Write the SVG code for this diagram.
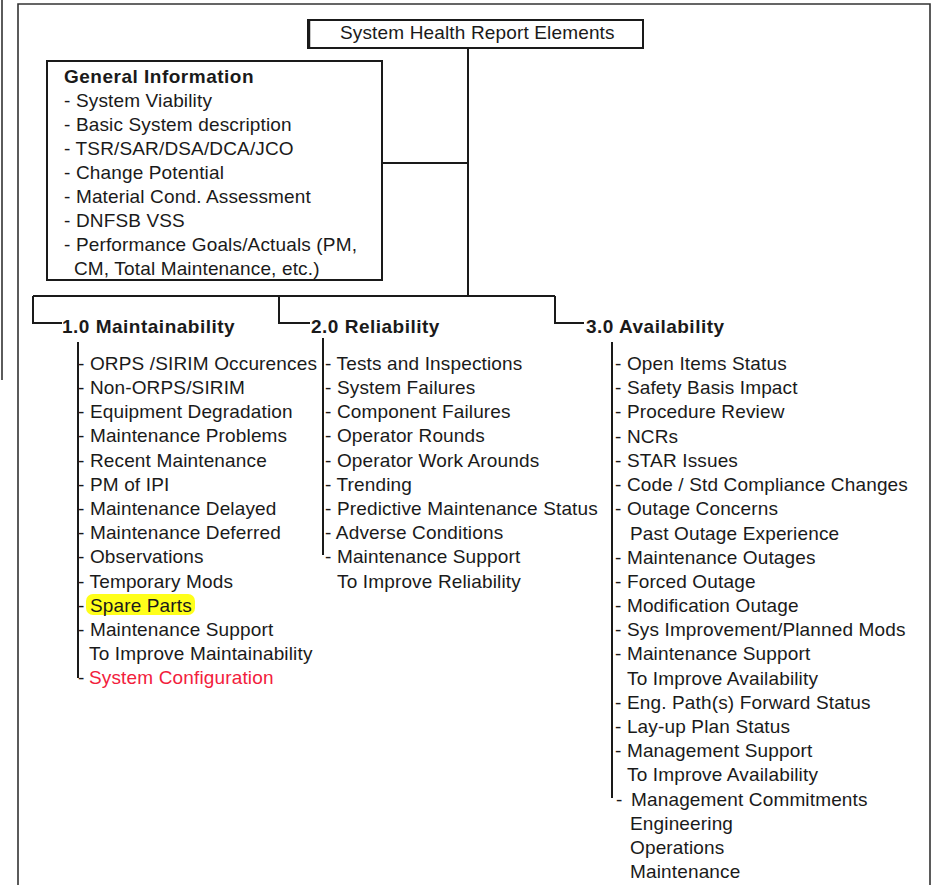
<svg xmlns="http://www.w3.org/2000/svg" width="932" height="885" viewBox="0 0 932 885">
<style>
text{font-family:"Liberation Sans",Arial,sans-serif;font-size:19px;fill:#1a1a1a;letter-spacing:0.15px}
.b{font-weight:bold;letter-spacing:0.5px}
.red{fill:#f2203c}
.box{fill:#fff;stroke:#1a1a1a;stroke-width:2}
.ln{fill:none;stroke:#1a1a1a;stroke-width:2}
.fr{fill:none;stroke:#333;stroke-width:1.6}
</style>
<rect width="932" height="885" fill="#fff"/>
<g id="frame">
<line class="fr" x1="2" y1="0" x2="2" y2="380"/>
<polyline class="fr" points="18,885 18,4 930,4 930,885"/>
</g>
<g id="connectors">
<line class="ln" x1="468" y1="48" x2="468" y2="296"/>
<line class="ln" x1="382" y1="163" x2="468" y2="163"/>
<line class="ln" x1="33" y1="296" x2="555" y2="296"/>
<polyline class="ln" points="33,296 33,323 62,323"/>
<polyline class="ln" points="279,296 279,323 310,323"/>
<polyline class="ln" points="555,296 555,323 584,323"/>
<line class="ln" x1="78" y1="342" x2="78" y2="678"/>
<line class="ln" x1="323" y1="338" x2="323" y2="555"/>
<line class="ln" x1="612" y1="342" x2="612" y2="798"/>
</g>
<g id="title">
<rect class="box" x="308" y="20" width="335" height="28"/>
<line x1="309" y1="20" x2="309" y2="48" stroke="#1a1a1a" stroke-width="2.5"/>
<text x="340" y="39">System Health Report Elements</text>
</g>
<g id="general-info">
<rect class="box" x="47" y="61" width="335" height="219"/>
<text class="b" x="64" y="83">General Information</text>
<text x="64" y="107">- System Viability</text>
<text x="64" y="131">- Basic System description</text>
<text x="64" y="155">- TSR/SAR/DSA/DCA/JCO</text>
<text x="64" y="179">- Change Potential</text>
<text x="64" y="203">- Material Cond. Assessment</text>
<text x="64" y="227">- DNFSB VSS</text>
<text x="64" y="251">- Performance Goals/Actuals (PM,</text>
<text x="74" y="275">CM, Total Maintenance, etc.)</text>
</g>
<g id="maintainability">
<text class="b" x="62" y="333">1.0 Maintainability</text>
<rect x="86" y="594" width="109" height="21" rx="7" fill="#ffff1a"/>
<text x="78" y="370">- ORPS /SIRIM Occurences</text>
<text x="78" y="394">- Non-ORPS/SIRIM</text>
<text x="78" y="418">- Equipment Degradation</text>
<text x="78" y="442">- Maintenance Problems</text>
<text x="78" y="467">- Recent Maintenance</text>
<text x="78" y="491">- PM of IPI</text>
<text x="78" y="515">- Maintenance Delayed</text>
<text x="78" y="539">- Maintenance Deferred</text>
<text x="78" y="563">- Observations</text>
<text x="78" y="588">- Temporary Mods</text>
<text x="78" y="612">- Spare Parts</text>
<text x="78" y="636">- Maintenance Support</text>
<text x="89" y="660">To Improve Maintainability</text>
<text x="78" y="684">-<tspan class="red" x="89">System Configuration</tspan></text>
</g>
<g id="reliability">
<text class="b" x="311" y="333">2.0 Reliability</text>
<text x="325" y="370">- Tests and Inspections</text>
<text x="325" y="394">- System Failures</text>
<text x="325" y="418">- Component Failures</text>
<text x="325" y="442">- Operator Rounds</text>
<text x="325" y="467">- Operator Work Arounds</text>
<text x="325" y="491">- Trending</text>
<text x="325" y="515">- Predictive Maintenance Status</text>
<text x="325" y="539">- Adverse Conditions</text>
<text x="325" y="563">- Maintenance Support</text>
<text x="337" y="588">To Improve Reliability</text>
</g>
<g id="availability">
<text class="b" x="586" y="333">3.0 Availability</text>
<text x="615" y="370">- Open Items Status</text>
<text x="615" y="394">- Safety Basis Impact</text>
<text x="615" y="418">- Procedure Review</text>
<text x="615" y="443">- NCRs</text>
<text x="615" y="467">- STAR Issues</text>
<text x="615" y="491">- Code / Std Compliance Changes</text>
<text x="615" y="515">- Outage Concerns</text>
<text x="630" y="540">Past Outage Experience</text>
<text x="615" y="564">- Maintenance Outages</text>
<text x="615" y="588">- Forced Outage</text>
<text x="615" y="612">- Modification Outage</text>
<text x="615" y="636">- Sys Improvement/Planned Mods</text>
<text x="615" y="660">- Maintenance Support</text>
<text x="627" y="685">To Improve Availability</text>
<text x="615" y="709">- Eng. Path(s) Forward Status</text>
<text x="615" y="733">- Lay-up Plan Status</text>
<text x="615" y="757">- Management Support</text>
<text x="627" y="781">To Improve Availability</text>
<text x="616" y="806">-<tspan x="631">Management Commitments</tspan></text>
<text x="630" y="830">Engineering</text>
<text x="630" y="854">Operations</text>
<text x="630" y="878">Maintenance</text>
</g>
</svg>
